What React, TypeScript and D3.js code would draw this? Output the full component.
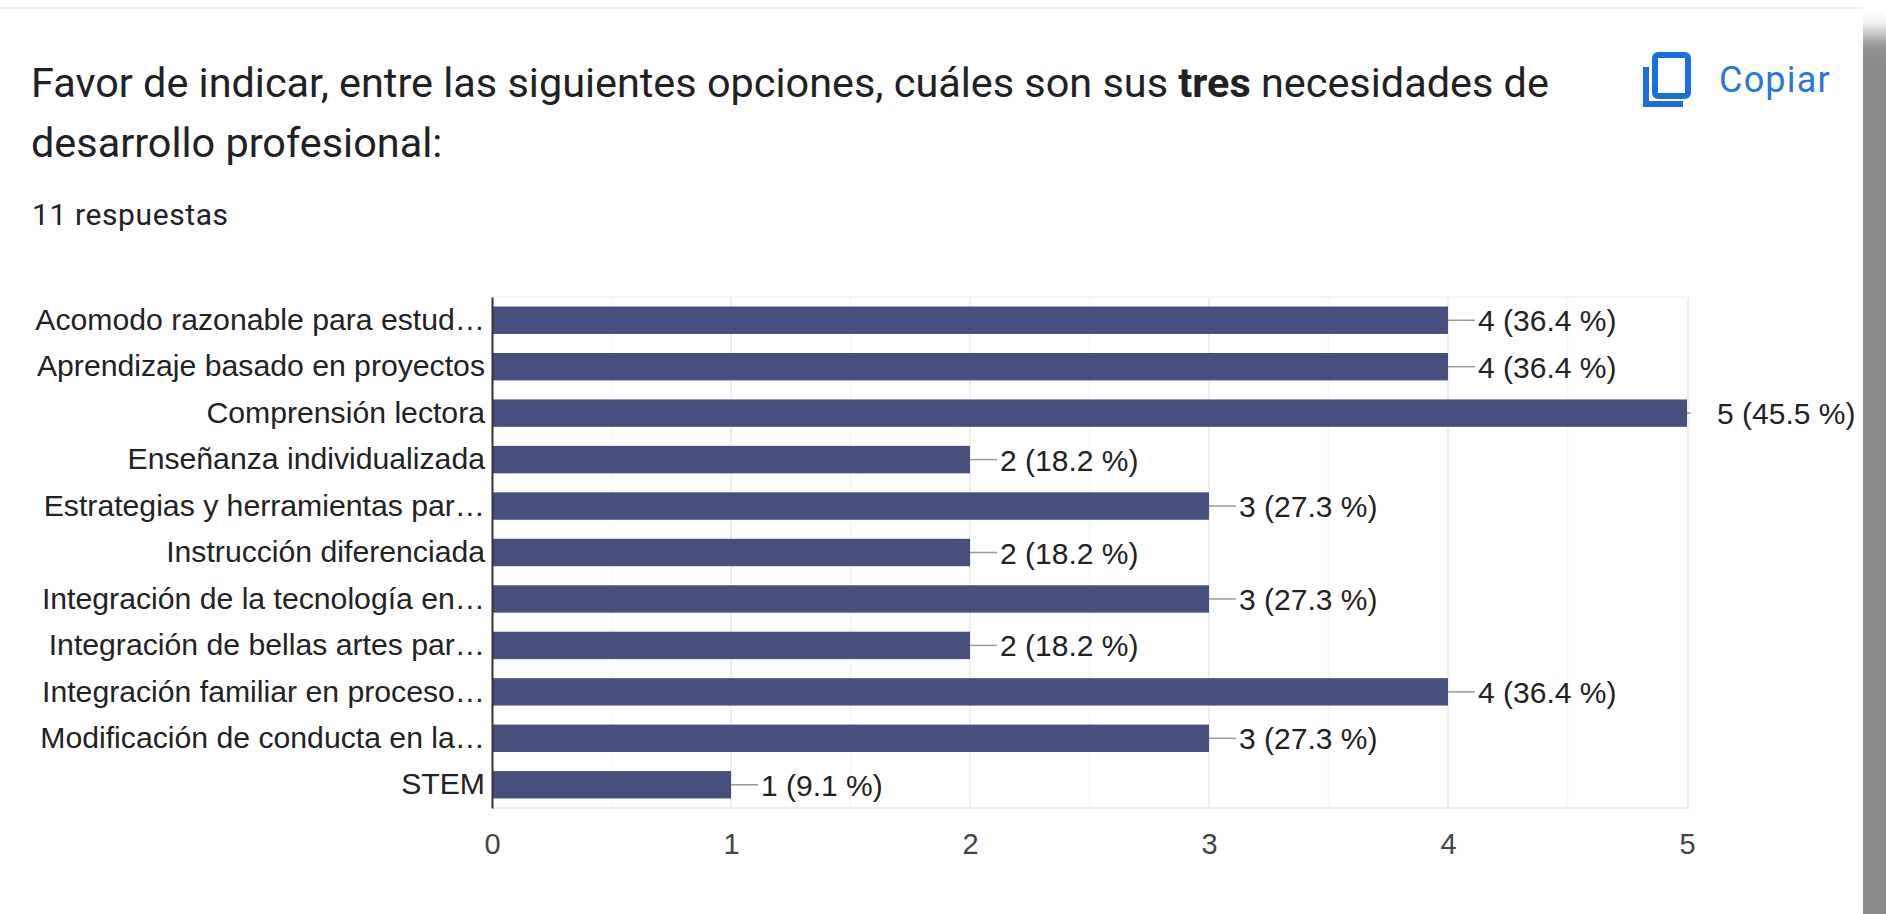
import * as d3 from "d3";
import React, { useEffect, useRef } from "react";

const categories = [
  "Acomodo razonable para estud…",
  "Aprendizaje basado en proyectos",
  "Comprensión lectora",
  "Enseñanza individualizada",
  "Estrategias y herramientas par…",
  "Instrucción diferenciada",
  "Integración de la tecnología en…",
  "Integración de bellas artes par…",
  "Integración familiar en proceso…",
  "Modificación de conducta en la…",
  "STEM",
];
const counts = [4, 4, 5, 2, 3, 2, 3, 2, 4, 3, 1];
const percents = ["36.4", "36.4", "45.5", "18.2", "27.3", "18.2", "27.3", "18.2", "36.4", "27.3", "9.1"];
const majorTicks = [0, 1, 2, 3, 4, 5];
const minorTicks = [0.5, 1.5, 2.5, 3.5, 4.5];

const width = 1886;
const height = 914;
const plot = { left: 492, right: 1687, top: 297, bottom: 808 };
const ARIAL = "'Liberation Sans', Arial, sans-serif";
const ROBOTO = "Roboto, sans-serif";

const App: React.FC = () => {
  const ref = useRef<SVGSVGElement>(null);

  useEffect(() => {
    const svg = d3.select(ref.current!);
    svg.selectAll("*").remove();

    const x = d3.scaleLinear().domain([0, 5]).range([plot.left, plot.right]);
    const y = d3
      .scaleBand()
      .domain(categories)
      .range([plot.top, plot.bottom])
      .paddingInner(0.41)
      .paddingOuter(0.205);

    // card shadow on the right edge
    svg
      .append("defs")
      .append("filter")
      .attr("id", "blur")
      .attr("x", "-50%")
      .attr("y", "-50%")
      .attr("width", "200%")
      .attr("height", "200%")
      .append("feGaussianBlur")
      .attr("stdDeviation", 11);

    svg.append("rect").attr("width", width).attr("height", height).attr("fill", "#fff");
    svg
      .append("rect")
      .attr("x", 1830)
      .attr("y", 34)
      .attr("width", 120)
      .attr("height", 1000)
      .attr("fill", "#8a8a8a")
      .attr("filter", "url(#blur)");
    svg.append("rect").attr("x", 0).attr("y", 8).attr("width", 1863).attr("height", 906).attr("fill", "#fff");
    svg.append("line").attr("x1", 0).attr("x2", 1863).attr("y1", 8).attr("y2", 8).attr("stroke", "#efefef").attr("stroke-width", 2);

    // heading
    const title = svg
      .append("text")
      .attr("font-family", ROBOTO)
      .attr("font-size", 41.4)
      .attr("fill", "#202124");
    const l1 = title.append("tspan").attr("x", 31).attr("y", 97);
    l1.append("tspan").text("Favor de indicar, entre las siguientes opciones, cuáles son sus ");
    l1.append("tspan").attr("font-weight", 700).text("tres");
    l1.append("tspan").text(" necesidades de");
    title.append("tspan").attr("x", 31).attr("y", 157).text("desarrollo profesional:");

    svg
      .append("text")
      .attr("x", 32)
      .attr("y", 225)
      .attr("font-family", ROBOTO)
      .attr("font-size", 30)
      .attr("letter-spacing", 0.6)
      .attr("fill", "#202124")
      .text("11 respuestas");

    // copy button
    const icon = svg.append("g").attr("fill", "none").attr("stroke", "#1a6fdc").attr("stroke-width", 6);
    icon.append("rect").attr("x", 1655).attr("y", 55).attr("width", 33).attr("height", 41).attr("rx", 3);
    icon.append("path").attr("d", d3.line()([[1646, 67], [1646, 104], [1683, 104]])!);
    svg
      .append("text")
      .attr("x", 1719)
      .attr("y", 92)
      .attr("font-family", ROBOTO)
      .attr("font-size", 36)
      .attr("letter-spacing", 1.2)
      .attr("fill", "#2a76dc")
      .text("Copiar");

    // gridlines
    const grid = svg.append("g");
    grid
      .selectAll("line.minor")
      .data(minorTicks)
      .join("line")
      .attr("class", "minor")
      .attr("x1", (d) => x(d))
      .attr("x2", (d) => x(d))
      .attr("y1", plot.top)
      .attr("y2", plot.bottom)
      .attr("stroke", "#f6f6f6")
      .attr("stroke-width", 1.5);
    grid
      .selectAll("line.major")
      .data(majorTicks.slice(1))
      .join("line")
      .attr("class", "major")
      .attr("x1", (d) => x(d) + (d === 5 ? 1 : 0))
      .attr("x2", (d) => x(d) + (d === 5 ? 1 : 0))
      .attr("y1", plot.top)
      .attr("y2", plot.bottom)
      .attr("stroke", "#eeeeee")
      .attr("stroke-width", 2);
    grid
      .append("line")
      .attr("x1", plot.left)
      .attr("x2", plot.right)
      .attr("y1", plot.top)
      .attr("y2", plot.top)
      .attr("stroke", "#f2f2f2")
      .attr("stroke-width", 1.5);
    grid
      .append("line")
      .attr("x1", plot.left)
      .attr("x2", plot.right + 2)
      .attr("y1", plot.bottom)
      .attr("y2", plot.bottom)
      .attr("stroke", "#eeeeee")
      .attr("stroke-width", 2);

    // leader lines
    svg
      .append("g")
      .selectAll("line")
      .data(counts)
      .join("line")
      .attr("x1", (d) => x(d))
      .attr("x2", (d) => Math.min(x(d) + 27, plot.right + 4))
      .attr("y1", (_, i) => y(categories[i])! + y.bandwidth() / 2)
      .attr("y2", (_, i) => y(categories[i])! + y.bandwidth() / 2)
      .attr("stroke", "#999999")
      .attr("stroke-width", 1.5);

    // bars
    svg
      .append("g")
      .selectAll("rect")
      .data(counts)
      .join("rect")
      .attr("x", plot.left)
      .attr("y", (_, i) => y(categories[i])!)
      .attr("width", (d) => x(d) - plot.left)
      .attr("height", y.bandwidth())
      .attr("fill", "#474f7f");

    // value labels
    svg
      .append("g")
      .selectAll("text")
      .data(counts)
      .join("text")
      .attr("x", (d) => x(d) + 30)
      .attr("y", (_, i) => y(categories[i])! + y.bandwidth() / 2 + 11)
      .attr("font-family", ARIAL)
      .attr("font-size", 30)
      .attr("fill", "#222222")
      .text((d, i) => `${d} (${percents[i]} %)`);

    // y axis
    const yAxis = svg
      .append("g")
      .attr("transform", `translate(${plot.left},0)`)
      .call(d3.axisLeft(y).tickSize(0).tickPadding(7));
    yAxis.select(".domain").attr("stroke", "#333333").attr("stroke-width", 2);
    yAxis
      .selectAll("text")
      .attr("font-family", ARIAL)
      .attr("font-size", 30.2)
      .attr("fill", "#222222");

    // x axis
    const xAxis = svg
      .append("g")
      .attr("transform", `translate(0,${plot.bottom})`)
      .call(
        d3
          .axisBottom(x)
          .tickValues(majorTicks)
          .tickSize(0)
          .tickPadding(25)
          .tickFormat(d3.format("d") as any)
      );
    xAxis.select(".domain").remove();
    xAxis
      .selectAll("text")
      .attr("font-family", ARIAL)
      .attr("font-size", 29)
      .attr("fill", "#444444");
  }, []);

  return (
    <svg
      ref={ref}
      width={width}
      height={height}
      style={{ position: "absolute", left: 0, top: 0, display: "block" }}
    />
  );
};

export default App;
